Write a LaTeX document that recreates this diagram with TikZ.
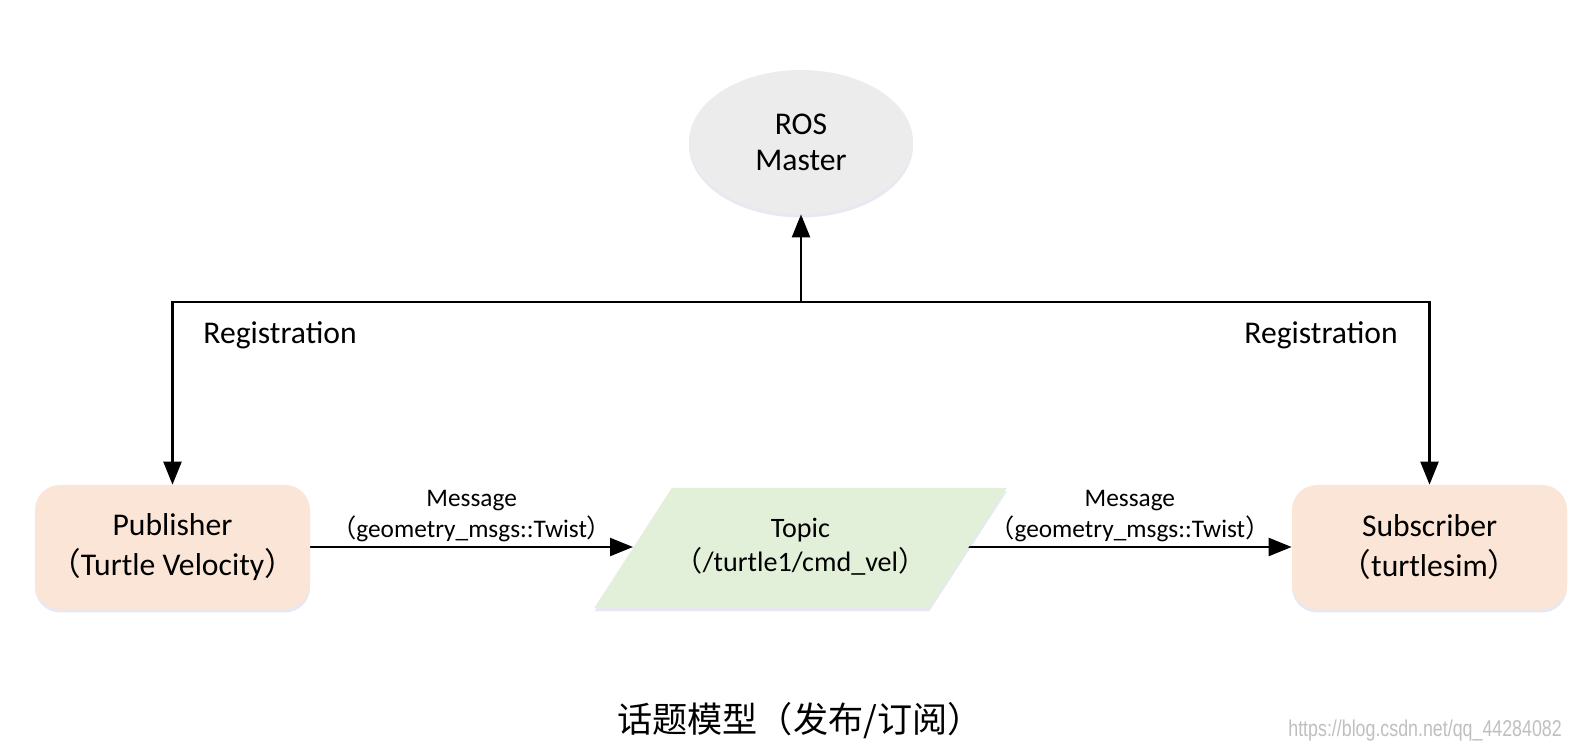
\documentclass[tikz,border=0pt]{standalone}
\usepackage{fontspec}
\setmainfont{Carlito}
\newfontfamily\cjk{Noto Sans CJK SC}
\newfontfamily\wmfont[FakeStretch=0.78]{Liberation Sans}
\usetikzlibrary{shapes.geometric,arrows.meta,shadows}
\newcommand{\zlp}{{\cjk （}}
\newcommand{\zrp}{{\cjk ）}}
\definecolor{mastergray}{HTML}{ECECEC}
\definecolor{peach}{HTML}{FBE5D6}
\definecolor{palegreen}{HTML}{E2F0D9}
\pgfdeclarelayer{edgelayer}
\pgfdeclarelayer{nodelayer}
\pgfsetlayers{edgelayer,nodelayer,main}
\tikzstyle{soft}=[drop shadow={shadow xshift=0cm, shadow yshift=-0.07cm, fill=blue!30!gray!70, opacity=0.2}]
\tikzstyle{master}=[ellipse, fill=mastergray, soft, minimum width=4.48cm, minimum height=2.88cm, align=center, font=\fontsize{18}{20.6}\selectfont]
\tikzstyle{client}=[rectangle, rounded corners=0.5cm, fill=peach, soft, minimum width=5.5cm, minimum height=2.48cm, align=center, font=\fontsize{18}{22.3}\selectfont]
\tikzstyle{topicshape}=[fill=palegreen, soft]
\tikzstyle{topic}=[align=center, font=\fontsize{16}{19.5}\selectfont]
\tikzstyle{label}=[font=\fontsize{18}{22}\selectfont]
\tikzstyle{msg}=[midway, above=0.05cm, inner sep=1pt, align=center, font=\fontsize{14.4}{17.6}\selectfont]
\tikzstyle{caption}=[font=\cjk\fontsize{20}{24}\selectfont]
\tikzstyle{wmark}=[anchor=east, text=black!25, font=\wmfont\fontsize{13}{15}\selectfont]
\tikzstyle{arrow}=[-{Triangle[length=0.46cm, width=0.36cm]}, draw=black, line width=1.300]

\begin{document}
\begin{tikzpicture}
    \useasboundingbox (0,0) rectangle (31.62,15.1);
    \begin{pgfonlayer}{nodelayer}
        \node [style=master] (master) at (16.02, 12.26) {ROS\\Master};
        \node [style=client] (pub) at (3.45, 4.16) {Publisher\\\zlp Turtle Velocity\zrp};
        \node [style=client] (sub) at (28.59, 4.16) {Subscriber\\\zlp turtlesim\zrp};

        % topic parallelogram
        \coordinate (tBL) at (11.885, 2.94);
        \coordinate (tTL) at (13.435, 5.34);
        \coordinate (tTR) at (20.135, 5.34);
        \coordinate (tBR) at (18.585, 2.94);
        \coordinate (topicL) at (12.66, 4.16);
        \coordinate (topicR) at (19.36, 4.16);
        \path [style=topicshape] (tBL) -- (tTL) -- (tTR) -- (tBR) -- cycle;
        \node [style=topic] (topic) at (16.01, 4.16) {Topic\\\zlp/turtle1/cmd\_vel\zrp};

        \node [style=label] (regL) at (5.6, 8.4) {Registration};
        \node [style=label] (regR) at (26.42, 8.4) {Registration};
        \coordinate (join) at (16.02, 9.06);

        \node [style=caption] (title) at (16.0, 0.68) {话题模型（发布/订阅）};
        \node [style=wmark] (wm) at (31.36, 0.48) {https://blog.csdn.net/qq\_44284082};
    \end{pgfonlayer}
    \begin{pgfonlayer}{edgelayer}
        \draw [style=arrow] (join) to (master);
        \draw [style=arrow] (join) -| (pub);
        \draw [style=arrow] (join) -| (sub);

        \draw [style=arrow] (pub) to node [style=msg] (msgA) {Message\\\zlp geometry\_msgs::Twist\zrp} (topicL);
        \draw [style=arrow] (topicR) to node [style=msg] (msgB) {Message\\\zlp geometry\_msgs::Twist\zrp} (sub);
    \end{pgfonlayer}
\end{tikzpicture}
\end{document}
